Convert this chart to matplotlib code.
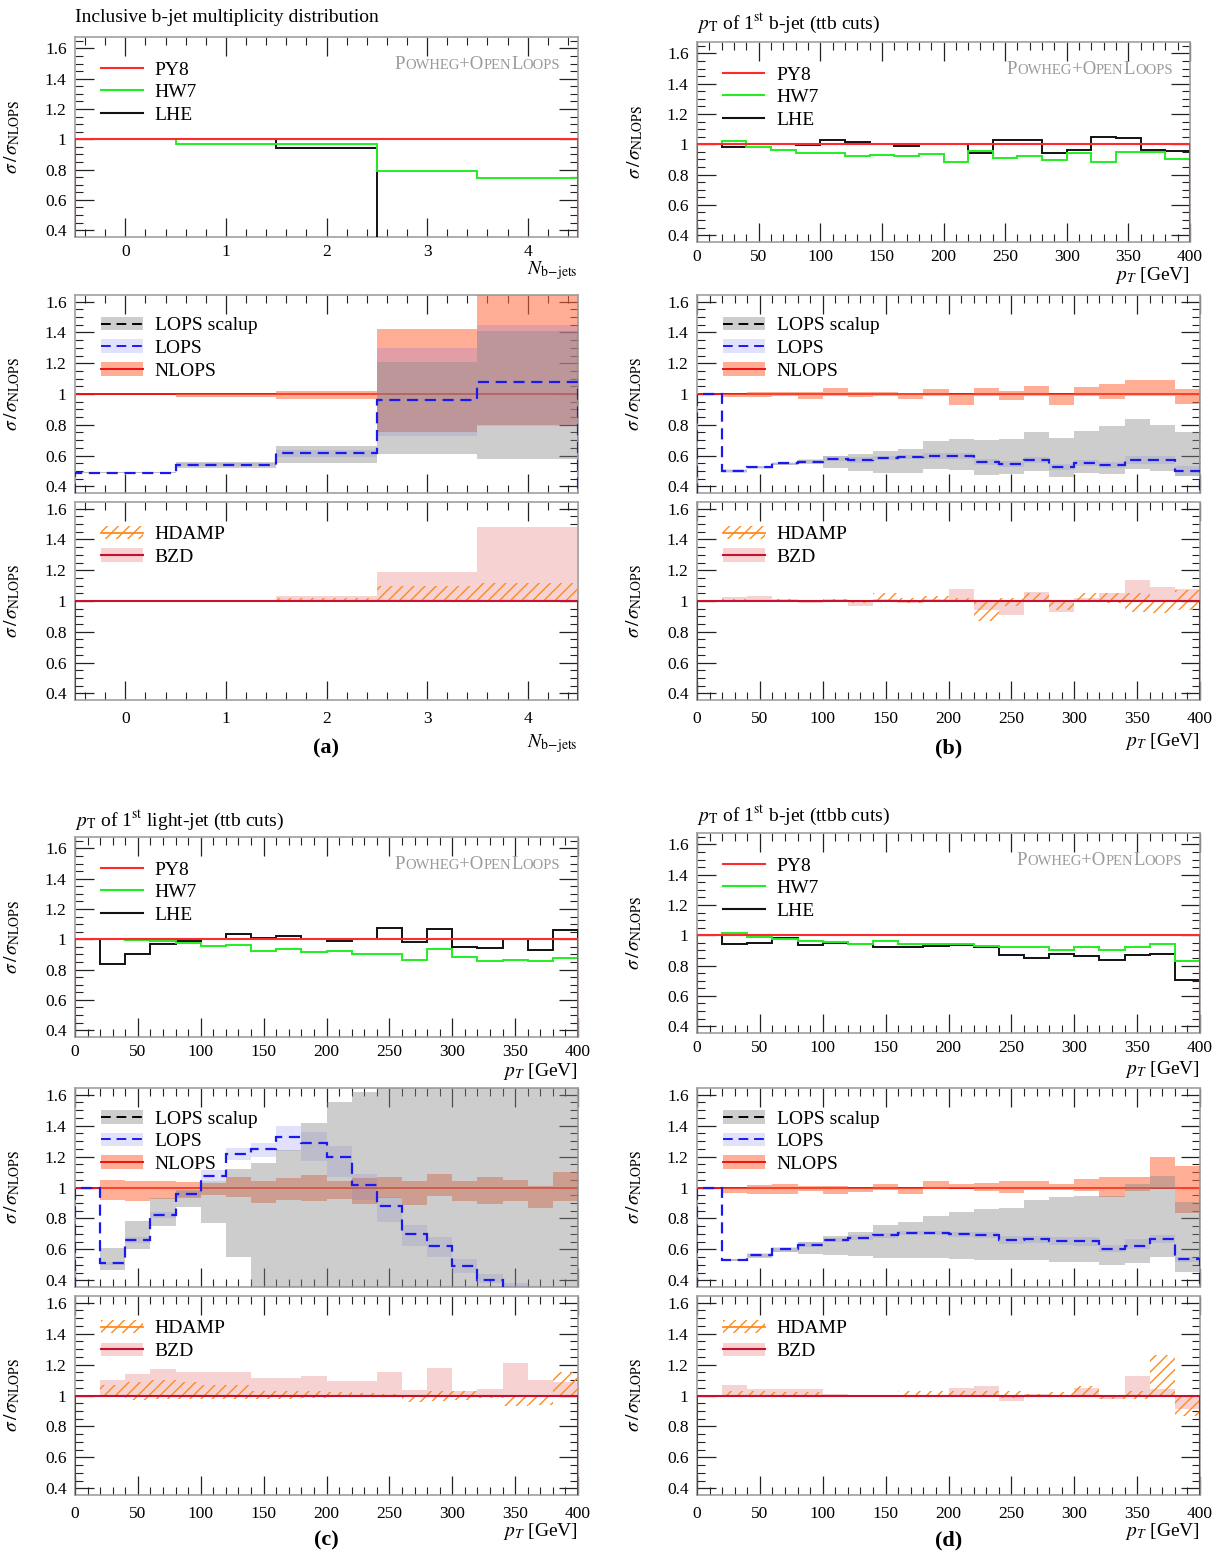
import matplotlib
matplotlib.use('Agg')
import matplotlib.pyplot as plt
from matplotlib.patches import Patch
from matplotlib.lines import Line2D
from matplotlib.offsetbox import TextArea, HPacker, AnchoredOffsetbox
from matplotlib.ticker import MultipleLocator, FuncFormatter

plt.rcParams['font.family'] = ['Liberation Serif', 'DejaVu Serif']
plt.rcParams['mathtext.fontset'] = 'stix'
plt.rcParams['hatch.linewidth'] = 1.0

W, H = 1220, 1552

# ---------------- data ----------------
nb_edges = [-0.5, 0.5, 1.5, 2.5, 3.5, 4.5]
pt_edges = [0, 20, 40, 60, 80, 100, 120, 140, 160, 180, 200,
            220, 240, 260, 280, 300, 320, 340, 360, 380, 400]

# (a) inclusive b-jet multiplicity
a_py8 = [1.0, 1.0, 1.0, 1.0, 1.0]
a_hw7 = [1.0, 0.97, 0.97, 0.79, 0.745]
a_lhe = [1.0, 1.0, 0.94, 0.0, 0.0]
a_lops = [0.49, 0.54, 0.615, 0.96, 1.08]
a_lops_lo = [0.485, 0.53, 0.59, 0.73, 0.79]
a_lops_hi = [0.495, 0.55, 0.635, 1.30, 1.45]
a_scal_lo = [0.485, 0.52, 0.55, 0.61, 0.58]
a_scal_hi = [0.495, 0.56, 0.66, 1.21, 1.41]
a_nlo_lo = [1.0, 0.98, 0.97, 0.75, 0.80]
a_nlo_hi = [1.0, 1.0, 1.02, 1.42, 1.64]
a_bzd_lo = [1.0, 1.0, 1.0, 1.0, 1.0]
a_bzd_hi = [1.0, 1.005, 1.03, 1.19, 1.48]
a_hd_lo = [1.0, 1.0, 1.0, 1.0, 1.0]
a_hd_hi = [1.0, 1.0, 1.02, 1.10, 1.12]

# (b) pT of 1st b-jet (ttb cuts)
b_py8 = [1.0] * 20
b_hw7 = [1.0, 1.02, 0.98, 0.96, 0.945, 0.94, 0.925, 0.93, 0.925, 0.935,
         0.88, 0.955, 0.91, 0.92, 0.895, 0.94, 0.885, 0.95, 0.95, 0.905]
b_lhe = [1.0, 0.98, 1.005, 1.005, 0.995, 1.025, 1.015, 1.0, 0.99, 1.005,
         1.005, 0.94, 1.03, 1.025, 0.94, 0.965, 1.045, 1.04, 0.96, 0.955]
b_lops = [1.0, 0.50, 0.525, 0.55, 0.56, 0.58, 0.57, 0.585, 0.59, 0.60,
          0.60, 0.56, 0.545, 0.57, 0.525, 0.55, 0.54, 0.57, 0.57, 0.50]
b_lops_lo = [1.0, 0.49, 0.515, 0.54, 0.55, 0.565, 0.55, 0.57, 0.575, 0.58,
             0.58, 0.54, 0.525, 0.55, 0.505, 0.53, 0.52, 0.545, 0.545, 0.47]
b_lops_hi = [1.0, 0.51, 0.535, 0.56, 0.575, 0.595, 0.59, 0.60, 0.605, 0.615,
             0.615, 0.58, 0.565, 0.59, 0.545, 0.57, 0.56, 0.595, 0.595, 0.53]
b_scal_lo = [1.0, 0.495, 0.52, 0.54, 0.545, 0.52, 0.50, 0.49, 0.49, 0.51,
             0.505, 0.475, 0.48, 0.50, 0.46, 0.49, 0.48, 0.51, 0.50, 0.47]
b_scal_hi = [1.0, 0.505, 0.53, 0.555, 0.57, 0.60, 0.61, 0.63, 0.645, 0.695,
             0.71, 0.70, 0.705, 0.755, 0.715, 0.76, 0.795, 0.835, 0.80, 0.75]
b_nlo_lo = [1.0, 0.98, 0.98, 0.99, 0.97, 0.99, 0.98, 0.985, 0.97, 0.99,
            0.93, 0.985, 0.96, 0.99, 0.93, 0.985, 0.965, 0.99, 0.99, 0.935]
b_nlo_hi = [1.0, 1.0, 1.01, 1.015, 1.01, 1.04, 1.01, 1.015, 1.005, 1.035,
            1.0, 1.04, 1.02, 1.05, 1.0, 1.045, 1.065, 1.09, 1.09, 1.03]
b_bzd_lo = [1.0, 1.0, 1.0, 1.0, 0.99, 0.995, 0.97, 1.0, 0.99, 1.0,
            1.0, 0.94, 0.91, 1.0, 0.93, 1.0, 1.0, 1.0, 1.0, 1.0]
b_bzd_hi = [1.0, 1.025, 1.035, 1.01, 1.0, 1.01, 1.0, 1.015, 1.0, 1.01,
            1.08, 1.0, 1.0, 1.06, 1.0, 1.02, 1.05, 1.135, 1.09, 1.08]
b_hd_lo = [1.0, 1.0, 1.0, 1.0, 0.995, 1.0, 0.99, 1.0, 0.985, 0.995,
           1.0, 0.87, 0.97, 1.0, 0.94, 1.0, 0.99, 0.93, 0.92, 0.94]
b_hd_hi = [1.0, 1.01, 1.0, 1.01, 1.0, 1.01, 1.0, 1.05, 1.02, 1.03,
           1.02, 1.0, 1.02, 1.05, 1.0, 1.05, 1.05, 1.05, 1.0, 1.07]

# (c) pT of 1st light-jet (ttb cuts)
c_py8 = [1.0] * 20
c_hw7 = [1.0, 1.0, 0.995, 0.99, 0.975, 0.955, 0.965, 0.925, 0.935, 0.915,
         0.92, 0.90, 0.905, 0.865, 0.935, 0.88, 0.855, 0.865, 0.855, 0.875]
c_lhe = [1.0, 0.84, 0.905, 0.97, 0.99, 1.0, 1.035, 1.01, 1.02, 1.005,
         0.99, 1.0, 1.075, 0.985, 1.065, 0.95, 0.94, 1.005, 0.93, 1.06]
c_lops = [1.0, 0.51, 0.66, 0.82, 0.96, 1.075, 1.215, 1.25, 1.325, 1.29,
          1.195, 1.015, 0.88, 0.70, 0.62, 0.495, 0.405, 0.33, 0.30, 0.28]
c_lops_lo = [1.0, 0.50, 0.64, 0.80, 0.94, 1.04, 1.18, 1.20, 1.235, 1.17,
             1.065, 0.92, 0.78, 0.62, 0.55, 0.45, 0.38, 0.31, 0.28, 0.26]
c_lops_hi = [1.0, 0.52, 0.68, 0.84, 0.98, 1.11, 1.255, 1.29, 1.40, 1.36,
             1.265, 1.09, 0.94, 0.76, 0.68, 0.54, 0.44, 0.38, 0.34, 0.32]
c_scal_lo = [1.0, 0.47, 0.60, 0.75, 0.875, 0.77, 0.55, 0.20, 0.20, 0.20,
             0.20, 0.20, 0.20, 0.20, 0.20, 0.20, 0.20, 0.20, 0.20, 0.20]
c_scal_hi = [1.0, 0.61, 0.785, 0.93, 0.985, 1.04, 1.12, 1.16, 1.24, 1.42,
             1.55, 1.62, 1.80, 1.80, 1.80, 1.80, 1.80, 1.80, 1.80, 1.80]
c_nlo_lo = [1.0, 0.92, 0.915, 0.925, 0.93, 0.95, 0.94, 0.90, 0.92, 0.91,
            0.925, 0.895, 0.93, 0.885, 0.945, 0.91, 0.895, 0.915, 0.865, 0.91]
c_nlo_hi = [1.0, 1.05, 1.045, 1.04, 1.035, 1.03, 1.07, 1.04, 1.06, 1.08,
            1.045, 1.06, 1.07, 1.04, 1.09, 1.045, 1.07, 1.05, 1.01, 1.10]
c_bzd_lo = [1.0] * 20
c_bzd_hi = [1.0, 1.10, 1.14, 1.17, 1.15, 1.15, 1.15, 1.11, 1.11, 1.125,
            1.095, 1.095, 1.155, 1.035, 1.18, 1.03, 1.045, 1.21, 1.10, 1.085]
c_hd_lo = [1.0, 0.99, 0.97, 0.98, 0.98, 0.975, 0.98, 0.975, 0.98, 0.985,
           0.99, 0.99, 0.995, 0.96, 0.965, 0.97, 0.985, 0.93, 0.94, 1.0]
c_hd_hi = [1.0, 1.07, 1.09, 1.10, 1.09, 1.07, 1.07, 1.03, 1.03, 1.03,
           1.02, 1.015, 1.01, 1.0, 1.03, 1.03, 1.0, 1.0, 1.0, 1.15]

# (d) pT of 1st b-jet (ttbb cuts)
d_py8 = [1.0] * 20
d_hw7 = [1.0, 1.015, 0.99, 0.975, 0.965, 0.955, 0.945, 0.96, 0.94, 0.94,
         0.94, 0.93, 0.925, 0.92, 0.905, 0.92, 0.905, 0.92, 0.945, 0.83]
d_lhe = [1.0, 0.945, 0.95, 0.98, 0.935, 0.95, 0.94, 0.925, 0.92, 0.93,
         0.935, 0.92, 0.87, 0.85, 0.875, 0.865, 0.84, 0.87, 0.875, 0.705]
d_lops = [1.0, 0.53, 0.565, 0.60, 0.63, 0.66, 0.675, 0.69, 0.705, 0.705,
          0.70, 0.695, 0.66, 0.665, 0.655, 0.655, 0.605, 0.62, 0.665, 0.535]
d_lops_lo = [1.0, 0.525, 0.55, 0.585, 0.615, 0.645, 0.66, 0.675, 0.69, 0.69,
             0.68, 0.675, 0.635, 0.64, 0.63, 0.625, 0.58, 0.60, 0.64, 0.52]
d_lops_hi = [1.0, 0.54, 0.575, 0.615, 0.645, 0.675, 0.69, 0.705, 0.72, 0.72,
             0.715, 0.71, 0.685, 0.685, 0.68, 0.68, 0.63, 0.67, 0.69, 0.55]
d_scal_lo = [1.0, 0.525, 0.545, 0.58, 0.57, 0.565, 0.555, 0.545, 0.545, 0.545,
             0.535, 0.53, 0.53, 0.53, 0.52, 0.52, 0.50, 0.515, 0.55, 0.455]
d_scal_hi = [1.0, 0.54, 0.57, 0.61, 0.645, 0.685, 0.71, 0.755, 0.78, 0.815,
             0.84, 0.86, 0.865, 0.92, 0.94, 0.945, 0.945, 1.02, 1.075, 0.905]
d_nlo_lo = [1.0, 0.965, 0.955, 0.96, 0.975, 0.955, 0.97, 0.985, 0.96, 0.99,
            0.995, 0.98, 0.965, 0.985, 0.985, 0.98, 0.94, 0.98, 1.0, 0.835]
d_nlo_hi = [1.0, 1.0, 1.015, 1.02, 1.01, 1.01, 0.995, 1.02, 1.0, 1.04,
            1.025, 1.03, 1.045, 1.04, 1.025, 1.055, 1.065, 1.07, 1.20, 1.14]
d_bzd_lo = [1.0, 1.0, 1.0, 1.0, 1.0, 1.0, 0.995, 1.0, 1.0, 1.0,
            1.0, 1.0, 0.965, 1.0, 0.99, 1.0, 0.98, 1.0, 1.0, 0.915]
d_bzd_hi = [1.0, 1.07, 1.045, 1.04, 1.04, 1.01, 1.0, 1.005, 1.0, 1.0,
            1.05, 1.06, 1.0, 1.01, 1.0, 1.05, 1.0, 1.125, 1.04, 1.0]
d_hd_lo = [1.0, 1.0, 1.0, 1.0, 1.0, 1.0, 1.0, 1.0, 1.0, 1.0,
           1.0, 1.0, 0.985, 1.0, 0.99, 1.0, 0.98, 0.98, 1.0, 0.87]
d_hd_hi = [1.0, 1.03, 1.03, 1.025, 1.02, 1.005, 1.0, 1.005, 1.03, 1.03,
           1.03, 1.03, 1.03, 1.01, 1.02, 1.06, 1.0, 1.03, 1.26, 1.0]

titles = ['Inclusive b-jet multiplicity distribution',
          r'$p_{\mathrm{T}}$ of 1$^{\mathrm{st}}$ b-jet (ttb cuts)',
          r'$p_{\mathrm{T}}$ of 1$^{\mathrm{st}}$ light-jet (ttb cuts)',
          r'$p_{\mathrm{T}}$ of 1$^{\mathrm{st}}$ b-jet (ttbb cuts)']
panel_tags = ['(a)', '(b)', '(c)', '(d)']
xlabel_nb = r'$N_{\mathrm{b\!-\!jets}}$'
xlabel_pt = r'$p_T$ [GeV]'

# ---------------- styles ----------------
C_PY8 = '#ff2a2a'
C_HW7 = '#22ee22'
C_LHE = '#111111'
C_LOPS = '#1a1aee'
C_NLO = '#ee1111'
C_BZD = '#c8102e'
C_HD = '#ff8a1e'
F_SCAL = ('#8a8a8a', 0.42)
F_LOPS = ('#6a6aee', 0.2)
F_NLO = ('#ff6a3d', 0.55)
F_BZD = '#f6d2d2'
FRAME = '#a0a0a0'
YLAB = r'$\sigma\,/\,\sigma_{\mathrm{NLOPS}}$'

fig = plt.figure(figsize=(W / 100, H / 100), dpi=100)


def add_ax(l, t, r, b):
    return fig.add_axes([l / W, 1 - b / H, (r - l) / W, (b - t) / H])


def style(ax, xlim, xmaj, xmin, ylim, labels=True):
    ax.set_xlim(*xlim)
    ax.set_ylim(*ylim)
    ax.xaxis.set_major_locator(MultipleLocator(xmaj))
    ax.xaxis.set_minor_locator(MultipleLocator(xmin))
    ax.yaxis.set_major_locator(MultipleLocator(0.2))
    ax.yaxis.set_minor_locator(MultipleLocator(0.05))
    ax.yaxis.set_major_formatter(FuncFormatter(lambda v, p: f'{v:g}'))
    ax.xaxis.set_major_formatter(FuncFormatter(lambda v, p: f'{v:g}'))
    ax.tick_params(which='both', direction='in', top=True, right=True,
                   color='#222222', labelsize=12.5)
    ax.tick_params(which='major', length=14, width=0.9, pad=6)
    ax.tick_params(which='minor', length=6, width=0.8)
    ax.tick_params(axis='x', which='major', pad=5)
    if not labels:
        ax.tick_params(axis='x', labelbottom=False)
    for s in ax.spines.values():
        s.set_color(FRAME)
        s.set_linewidth(1.2)
    ax.set_ylabel(YLAB, fontsize=14)
    ax.yaxis.set_label_coords(-0.105, 0.5)


def smallcaps(ax, xr, yt):
    parts = [('P', 13.5), ('OWHEG', 10.5), ('+O', 13.5), ('PEN', 10.5),
             ('L', 13.5), ('OOPS', 10.5)]
    boxes = [TextArea(t, textprops=dict(fontsize=s, color='#9a9a9a'))
             for t, s in parts]
    pk = HPacker(children=boxes, align='baseline', pad=0, sep=0)
    ab = AnchoredOffsetbox(loc='upper right', child=pk, frameon=False, pad=0,
                           borderpad=0, bbox_to_anchor=(xr, yt),
                           bbox_transform=ax.transAxes)
    ax.add_artist(ab)


LEG = dict(loc='upper left', frameon=False, fontsize=14, handlelength=2.15,
           handleheight=0.7, handletextpad=0.6, labelspacing=0.26,
           borderaxespad=0, borderpad=0)


def top_plot(ax, edges, py8, hw7, lhe):
    ax.stairs(lhe, edges, color=C_LHE, lw=1.4, zorder=3)
    ax.stairs(hw7, edges, color=C_HW7, lw=1.4, zorder=3)
    ax.stairs(py8, edges, color=C_PY8, lw=1.5, zorder=4)
    h = [Line2D([], [], color=C_PY8, lw=1.5), Line2D([], [], color=C_HW7, lw=1.5),
         Line2D([], [], color=C_LHE, lw=1.5)]
    ax.legend(h, ['PY8', 'HW7', 'LHE'], bbox_to_anchor=(0.052, 0.88), **LEG)
    smallcaps(ax, 0.965, 0.905)


def mid_plot(ax, edges, nlo_lo, nlo_hi, lops, lops_lo, lops_hi, scal_lo, scal_hi):
    ones = [1.0] * len(lops)
    ax.stairs(ones, edges, color=C_NLO, lw=1.4, zorder=2)
    ax.stairs(nlo_hi, edges, baseline=nlo_lo, fill=True, color=F_NLO[0],
              alpha=F_NLO[1], lw=0, zorder=3)
    ax.stairs(lops_hi, edges, baseline=lops_lo, fill=True, color=F_LOPS[0],
              alpha=F_LOPS[1], lw=0, zorder=3)
    ax.stairs(scal_hi, edges, baseline=scal_lo, fill=True, color=F_SCAL[0],
              alpha=F_SCAL[1], lw=0, zorder=3)
    ax.stairs(lops, edges, color=C_LOPS, lw=1.6, ls=(0, (5, 3)), zorder=5)
    h = [(Patch(facecolor=F_SCAL[0], alpha=F_SCAL[1], lw=0),
          Line2D([], [], color='black', lw=1.4, ls=(0, (5, 3)))),
         (Patch(facecolor=F_LOPS[0], alpha=F_LOPS[1], lw=0),
          Line2D([], [], color=C_LOPS, lw=1.4, ls=(0, (5, 3)))),
         (Patch(facecolor=F_NLO[0], alpha=F_NLO[1], lw=0),
          Line2D([], [], color=C_NLO, lw=1.4))]
    ax.legend(h, ['LOPS scalup', 'LOPS', 'NLOPS'],
              bbox_to_anchor=(0.052, 0.89), **LEG)


def bot_plot(ax, edges, bzd_lo, bzd_hi, hd_lo, hd_hi):
    ax.stairs(bzd_hi, edges, baseline=bzd_lo, fill=True, color=F_BZD, lw=0,
              zorder=2)
    ax.stairs(hd_hi, edges, baseline=hd_lo, fill=True, facecolor='none',
              edgecolor=C_HD, hatch='///', lw=0, zorder=3)
    ones = [1.0] * len(bzd_lo)
    ax.stairs(ones, edges, color=C_BZD, lw=1.5, zorder=4)
    h = [(Patch(facecolor='none', edgecolor=C_HD, hatch='///', lw=0),
          Line2D([], [], color=C_HD, lw=1.3)),
         (Patch(facecolor=F_BZD, lw=0), Line2D([], [], color=C_BZD, lw=1.5))]
    ax.legend(h, ['HDAMP', 'BZD'], bbox_to_anchor=(0.052, 0.88), **LEG)


YL_TOP = (0.355, 1.675)
YL = (0.357, 1.643)

layout = [
    dict(top=(75, 37, 578, 237), mid=(75, 295, 578, 493), bot=(75, 502, 578, 700),
         xl_top=271, xl_bot=744, title_y=18, tag_y=748),
    dict(top=(697, 42, 1190, 242), mid=(697, 295, 1200, 493), bot=(697, 502, 1200, 700),
         xl_top=275, xl_bot=741, title_y=23, tag_y=748),
    dict(top=(75, 837, 578, 1037), mid=(75, 1088, 578, 1287), bot=(75, 1296, 578, 1495),
         xl_top=1071, xl_bot=1532, title_y=820, tag_y=1540),
    dict(top=(697, 833, 1200, 1033), mid=(697, 1088, 1200, 1287), bot=(697, 1296, 1200, 1495),
         xl_top=1070, xl_bot=1532, title_y=815, tag_y=1540),
]

panels = [
    (nb_edges, a_py8, a_hw7, a_lhe, a_nlo_lo, a_nlo_hi, a_lops, a_lops_lo, a_lops_hi,
     a_scal_lo, a_scal_hi, a_bzd_lo, a_bzd_hi, a_hd_lo, a_hd_hi),
    (pt_edges, b_py8, b_hw7, b_lhe, b_nlo_lo, b_nlo_hi, b_lops, b_lops_lo, b_lops_hi,
     b_scal_lo, b_scal_hi, b_bzd_lo, b_bzd_hi, b_hd_lo, b_hd_hi),
    (pt_edges, c_py8, c_hw7, c_lhe, c_nlo_lo, c_nlo_hi, c_lops, c_lops_lo, c_lops_hi,
     c_scal_lo, c_scal_hi, c_bzd_lo, c_bzd_hi, c_hd_lo, c_hd_hi),
    (pt_edges, d_py8, d_hw7, d_lhe, d_nlo_lo, d_nlo_hi, d_lops, d_lops_lo, d_lops_hi,
     d_scal_lo, d_scal_hi, d_bzd_lo, d_bzd_hi, d_hd_lo, d_hd_hi),
]

for i, (lay, pdat) in enumerate(zip(layout, panels)):
    (edges, py8, hw7, lhe, nlo_lo, nlo_hi, lops, lops_lo, lops_hi,
     scal_lo, scal_hi, bzd_lo, bzd_hi, hd_lo, hd_hi) = pdat
    if i == 0:
        xlim, xmaj, xmin, xlab = (-0.5, 4.5), 1, 0.2, xlabel_nb
    else:
        xlim, xmaj, xmin, xlab = (0, 400), 50, 10, xlabel_pt

    ax1 = add_ax(*lay['top'])
    top_plot(ax1, edges, py8, hw7, lhe)
    style(ax1, xlim, xmaj, xmin, YL_TOP, labels=True)

    ax2 = add_ax(*lay['mid'])
    mid_plot(ax2, edges, nlo_lo, nlo_hi, lops, lops_lo, lops_hi, scal_lo, scal_hi)
    style(ax2, xlim, xmaj, xmin, YL, labels=False)

    ax3 = add_ax(*lay['bot'])
    bot_plot(ax3, edges, bzd_lo, bzd_hi, hd_lo, hd_hi)
    style(ax3, xlim, xmaj, xmin, YL, labels=True)
    ax3.tick_params(axis='x', which='major', pad=8)

    l, t, r, b = lay['top']
    fig.text(l / W, 1 - lay['title_y'] / H, titles[i], fontsize=14,
             ha='left', va='center')
    fig.text(r / W, 1 - lay['xl_top'] / H, xlab, fontsize=14, ha='right', va='center')
    l3, t3, r3, b3 = lay['bot']
    fig.text(r3 / W, 1 - lay['xl_bot'] / H, xlab, fontsize=14, ha='right', va='center')
    fig.text((l3 + r3) / 2 / W, 1 - lay['tag_y'] / H, panel_tags[i], fontsize=16,
             fontweight='bold', ha='center', va='center')

fig.savefig('out.png', dpi=100)
